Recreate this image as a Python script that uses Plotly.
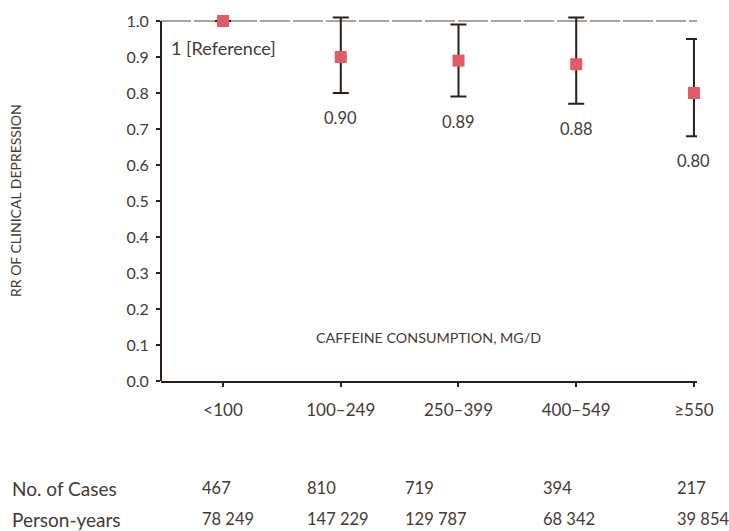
import plotly.graph_objects as go

categories = ["<100", "100–249", "250–399", "400–549", "≥550"]
rr = [1.0, 0.90, 0.89, 0.88, 0.80]
ci_low = [None, 0.80, 0.79, 0.77, 0.68]
ci_high = [None, 1.01, 0.99, 1.01, 0.95]
rr_labels = ["1 [Reference]", "0.90", "0.89", "0.88", "0.80"]
cases = ["467", "810", "719", "394", "217"]
person_years = ["78 249", "147 229", "129 787", "68 342", "39 854"]
row_titles = ["No. of Cases", "Person-years"]

TXT = "#433a35"
AX = "#2b1f17"
RED = "#e35b64"
FONT = "Lato"
WT = 400

W, H = 729, 531
L, R, B = 161, 32, 150
PX_PER_UNIT = 360.0
PLOT_H = 375
T = H - B - PLOT_H
YTOP = PLOT_H / PX_PER_UNIT
pw = W - L - R


def py(pix):
    return (H - B - pix) / PLOT_H


def px(pix):
    return (pix - L) / pw


def f(size):
    return dict(size=size, color=TXT, family=FONT, weight=WT)


err_plus = [0 if h is None else h - v for h, v in zip(ci_high, rr)]
err_minus = [0 if l is None else v - l for l, v in zip(ci_low, rr)]
xs = list(range(len(categories)))

fig = go.Figure()
fig.add_trace(go.Scatter(
    x=xs, y=rr, mode="markers",
    marker=dict(symbol="square", size=12, color=RED),
    error_y=dict(type="data", symmetric=False, array=err_plus, arrayminus=err_minus,
                 color=AX, thickness=2, width=8, visible=True),
    cliponaxis=False, showlegend=False, hoverinfo="skip",
))

fig.add_shape(type="line", xref="paper", yref="y", x0=0, x1=1, y0=1.0, y1=1.0,
              line=dict(color="#8c8682", width=1.5, dash="30px,3px"), layer="below")
fig.add_shape(type="line", xref="paper", yref="y", x0=0, x1=0, y0=0, y1=1.0,
              line=dict(color=AX, width=2), layer="above")

anns = []
for i, (lab, lo) in enumerate(zip(rr_labels, ci_low)):
    if lo is None:
        anns.append(dict(x=xs[i], y=0.925, xref="x", yref="y", text=lab, showarrow=False,
                         font=f(18), xanchor="center", yanchor="middle"))
    else:
        anns.append(dict(x=xs[i], y=lo, xref="x", yref="y", text=lab, showarrow=False, yshift=-25,
                         font=f(16.5), xanchor="center", yanchor="middle"))

anns.append(dict(x=px(15), y=py(201), xref="paper", yref="paper", text="RR OF CLINICAL DEPRESSION",
                 textangle=-90, showarrow=False, font=f(14), xanchor="center", yanchor="middle"))
anns.append(dict(x=px(428), y=py(337), xref="paper", yref="paper",
                 text="CAFFEINE CONSUMPTION, MG/D", showarrow=False,
                 font=f(14.3), xanchor="center", yanchor="middle"))

col_px = [200, 305, 403, 541, 675]
row_py = [488, 519]
for r, (title, vals) in enumerate(zip(row_titles, [cases, person_years])):
    anns.append(dict(x=px(10), y=py(row_py[r]), xref="paper", yref="paper", text=title, showarrow=False,
                     font=f(19), xanchor="left", yanchor="middle"))
    for c, v in enumerate(vals):
        anns.append(dict(x=px(col_px[c]), y=py(row_py[r]), xref="paper", yref="paper", text=v,
                         showarrow=False, font=f(16.5), xanchor="left", yanchor="middle"))

fig.update_layout(
    width=W, height=H, margin=dict(l=L, r=R, t=T, b=B, pad=0),
    paper_bgcolor="white", plot_bgcolor="white",
    font=f(15),
    annotations=anns,
    xaxis=dict(range=[-0.527, 4.026], tickvals=xs, ticktext=categories, showgrid=False, zeroline=False,
               showline=True, linecolor=AX, linewidth=2, ticks="outside", ticklen=4, tickwidth=1.5,
               tickcolor=AX, ticklabelstandoff=9, tickfont=f(17)),
    yaxis=dict(range=[0, YTOP], tickvals=[i / 10 for i in range(11)],
               ticktext=[f"{i/10:.1f}" for i in range(11)], showgrid=False, zeroline=False,
               showline=False, ticks="outside", ticklen=4, tickwidth=1.5,
               tickcolor=AX, ticklabelstandoff=4, tickfont=f(16)),
)

fig.write_html("out.html", config={"displayModeBar": False},
               post_script="document.body.style.margin='0px';document.body.style.overflow='hidden';")
